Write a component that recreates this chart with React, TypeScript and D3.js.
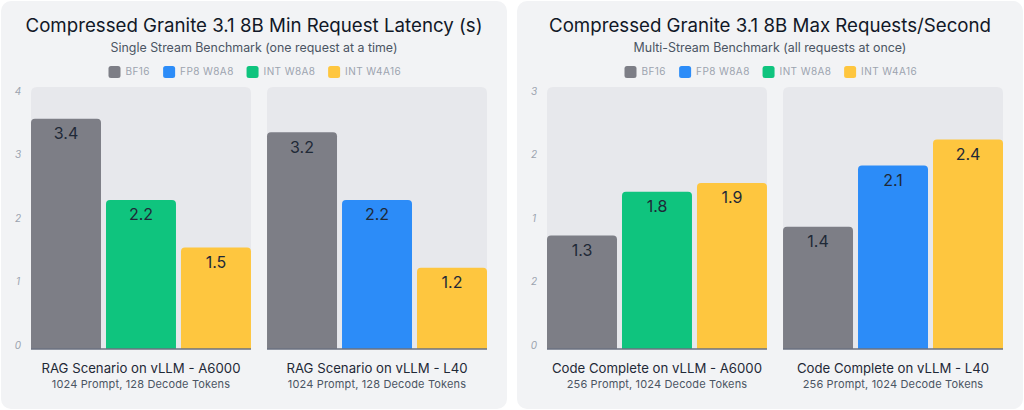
import React, { useEffect } from 'react';
import * as d3 from 'd3';

// series / legend
const seriesNames = ['BF16', 'FP8 W8A8', 'INT W8A8', 'INT W4A16'];
const seriesColors = ['#7d7e86', '#2c8cf8', '#0fc47e', '#fec63f'];

// left card: min request latency (s)
const latencyGroups = ['RAG Scenario on vLLM - A6000', 'RAG Scenario on vLLM - L40'];
const latencySubLabels = ['1024 Prompt, 128 Decode Tokens', '1024 Prompt, 128 Decode Tokens'];
const latencyA6000Series = ['BF16', 'INT W8A8', 'INT W4A16'];
const latencyA6000Values = [3.4, 2.2, 1.5];
const latencyL40Series = ['BF16', 'FP8 W8A8', 'INT W4A16'];
const latencyL40Values = [3.2, 2.2, 1.2];
const latencyTicks = ['0', '1', '2', '3', '4'];

// right card: max requests / second
const throughputGroups = ['Code Complete on vLLM - A6000', 'Code Complete on vLLM - L40'];
const throughputSubLabels = ['256 Prompt, 1024 Decode Tokens', '256 Prompt, 1024 Decode Tokens'];
const throughputA6000Series = ['BF16', 'INT W8A8', 'INT W4A16'];
const throughputA6000Values = [1.3, 1.8, 1.9];
const throughputL40Series = ['BF16', 'FP8 W8A8', 'INT W4A16'];
const throughputL40Values = [1.4, 2.1, 2.4];
const throughputTicks = ['0', '2', '1', '2', '3'];

const W = 1024;
const H = 410;
const FONT = 'Inter, "Noto Sans", sans-serif';
const PANEL_TOP = 87;
const BASE = 349;

const color = d3.scaleOrdinal<string, string>().domain(seriesNames).range(seriesColors);

const measure = (() => {
  const ctx = document.createElement('canvas').getContext('2d');
  return (text: string, font: string) => {
    if (!ctx) return text.length * 6;
    ctx.font = font;
    return ctx.measureText(text).width;
  };
})();

const topRounded = (x: number, y: number, w: number, h: number, r: number) => {
  const rr = Math.min(r, h, w / 2);
  return `M${x},${y + h}V${y + rr}Q${x},${y} ${x + rr},${y}H${x + w - rr}Q${x + w},${y} ${x + w},${y + rr}V${y + h}Z`;
};

interface CardProps {
  x: number;
  width: number;
  title: string;
  subtitle: string;
  groups: string[];
  subLabels: string[];
  groupSeries: string[][];
  groupValues: number[][];
  yMax: number;
  ticks: string[];
}

const Card: React.FC<CardProps> = ({ x, width, title, subtitle, groups, subLabels, groupSeries, groupValues, yMax, ticks }) => {
  const cx = x + width / 2;
  const gx = d3.scaleBand<string>().domain(groups).range([x + 30, x + 486]).paddingInner(0.068);
  const y = d3.scaleLinear().domain([0, yMax]).range([BASE, PANEL_TOP]);
  const tickY = d3.scalePoint<number>().domain(ticks.map((_, i) => i)).range([346, 92]);

  // legend layout
  const legendFont = `10px ${FONT}`;
  const itemW = seriesNames.map(s => 12 + 5 + measure(s, legendFont) * 1.04);
  const totalW = d3.sum(itemW) + 14 * (seriesNames.length - 1);
  let lx = cx - totalW / 2;
  const legendX = itemW.map(w => {
    const p = lx;
    lx += w + 14;
    return p;
  });

  return (
    <g>
      <rect x={x} y={1} width={width} height={408} rx={10} fill="#f2f3f5" />
      <text x={cx} y={27} textAnchor="middle" dominantBaseline="middle" fontSize={18.7} fill="#111827" fontFamily={FONT}>
        {title}
      </text>
      <text x={cx} y={49} textAnchor="middle" dominantBaseline="middle" fontSize={12.4} fill="#4b5563" fontFamily={FONT}>
        {subtitle}
      </text>
      {seriesNames.map((s, i) => (
        <g key={s} transform={`translate(${legendX[i]},72)`}>
          <rect x={0} y={-6} width={12} height={12} rx={2.5} fill={color(s)} />
          <text x={17} y={0.5} dominantBaseline="middle" fontSize={10} letterSpacing={0.4} fill="#9ca3af" fontFamily={FONT}>
            {s}
          </text>
        </g>
      ))}
      {ticks.map((t, i) => (
        <text
          key={i}
          x={x + 17}
          y={tickY(i)}
          textAnchor="middle"
          dominantBaseline="middle"
          fontSize={10}
          fontStyle="italic"
          fill="#9ca3af"
          fontFamily={FONT}
        >
          {t}
        </text>
      ))}
      {groups.map((grp, gi) => {
        const px = gx(grp) as number;
        const bw = gx.bandwidth();
        const bx = d3.scaleBand<string>().domain(groupSeries[gi]).range([px, px + bw]).paddingInner(0.0667);
        return (
          <g key={grp}>
            <path d={topRounded(px, PANEL_TOP, bw, BASE - PANEL_TOP, 6)} fill="#e7e8ec" />
            {groupSeries[gi].map((s, si) => {
              const v = groupValues[gi][si];
              const bxx = bx(s) as number;
              return (
                <g key={s}>
                  <path d={topRounded(bxx, y(v), bx.bandwidth(), BASE - y(v), 4)} fill={color(s)} />
                  <text
                    x={bxx + bx.bandwidth() / 2}
                    y={y(v) + 16}
                    textAnchor="middle"
                    dominantBaseline="middle"
                    fontSize={16}
                    fill="#1f2937"
                    fontFamily={FONT}
                  >
                    {v.toFixed(1)}
                  </text>
                </g>
              );
            })}
            <line x1={px} x2={px + bw} y1={BASE} y2={BASE} stroke="#6b7280" strokeWidth={1.5} />
            <text x={px + bw / 2} y={369} textAnchor="middle" dominantBaseline="middle" fontSize={13.2} fill="#1f2937" fontFamily={FONT}>
              {grp}
            </text>
            <text x={px + bw / 2} y={384.5} textAnchor="middle" dominantBaseline="middle" fontSize={11} letterSpacing={0.15} fill="#4b5563" fontFamily={FONT}>
              {subLabels[gi]}
            </text>
          </g>
        );
      })}
    </g>
  );
};

const App: React.FC = () => {
  useEffect(() => {
    document.body.style.margin = '0';
    document.body.style.background = '#ffffff';
  }, []);

  return (
    <svg width={W} height={H} style={{ display: 'block', background: '#ffffff' }}>
      <Card
        x={1}
        width={506}
        title="Compressed Granite 3.1 8B Min Request Latency (s)"
        subtitle="Single Stream Benchmark (one request at a time)"
        groups={latencyGroups}
        subLabels={latencySubLabels}
        groupSeries={[latencyA6000Series, latencyL40Series]}
        groupValues={[latencyA6000Values, latencyL40Values]}
        yMax={3.87}
        ticks={latencyTicks}
      />
      <Card
        x={517}
        width={506}
        title="Compressed Granite 3.1 8B Max Requests/Second"
        subtitle="Multi-Stream Benchmark (all requests at once)"
        groups={throughputGroups}
        subLabels={throughputSubLabels}
        groupSeries={[throughputA6000Series, throughputL40Series]}
        groupValues={[throughputA6000Values, throughputL40Values]}
        yMax={3}
        ticks={throughputTicks}
      />
    </svg>
  );
};

export default App;
